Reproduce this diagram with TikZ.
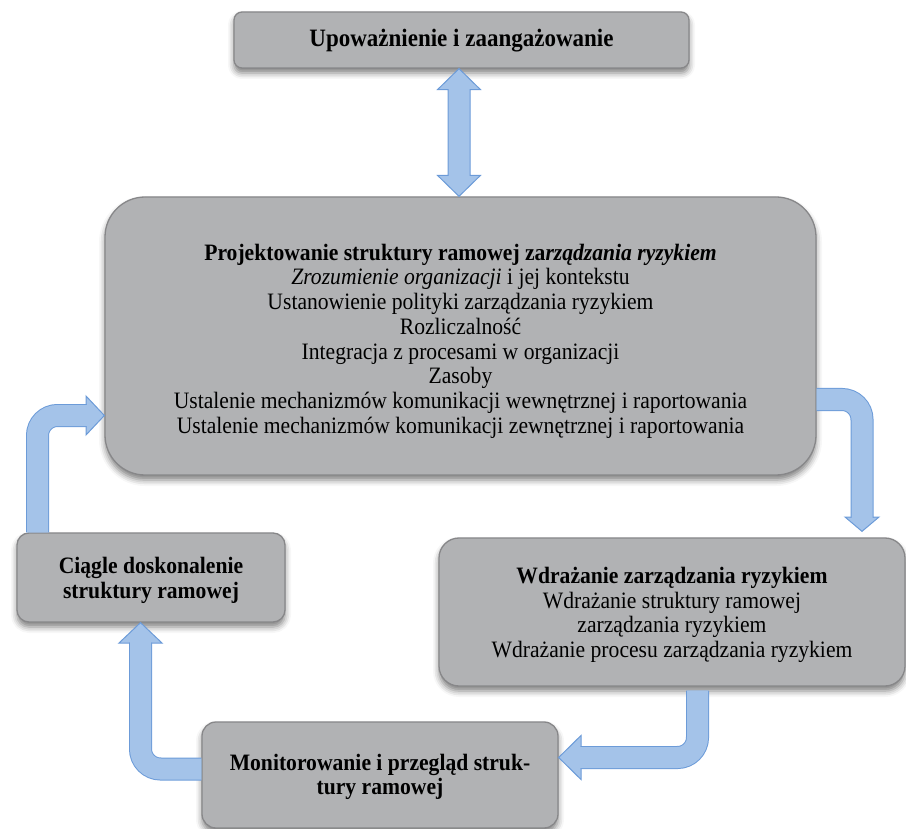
\documentclass[tikz,border=0pt]{standalone}
\usepackage{fontspec}
\setmainfont{Liberation Serif}[FakeStretch=0.92]
\usetikzlibrary{calc,shadows.blur}

\definecolor{boxfill}{RGB}{177,178,180}
\definecolor{boxline}{RGB}{135,135,137}
\definecolor{arrowfill}{RGB}{164,195,233}
\definecolor{arrowline}{RGB}{108,155,216}

\tikzset{
  box/.style={draw=boxline, fill=boxfill, line width=1.3pt, inner sep=0pt,
    blur shadow={shadow xshift=0pt, shadow yshift=-5pt,
      shadow blur radius=6pt, shadow opacity=50}},
  boxtext/.style={align=center, inner sep=0pt,
    font=\fontsize{23.5}{24.7}\selectfont},
  shaftline/.style={line width=23pt, draw=arrowline, rounded corners=20pt},
  shaftfill/.style={line width=21pt, draw=arrowfill, rounded corners=20pt},
  headstyle/.style={fill=arrowfill, draw=arrowline, line width=1pt, line join=miter},
}

% triangular head: #1 base centre, #2 tip, #3 half width
\newcommand\blockhead[3]{%
  \path[headstyle] ($(#1)!#3!90:(#2)$) -- (#2) -- ($(#1)!#3!-90:(#2)$) -- cycle;}

\begin{document}
\begin{tikzpicture}[x=1pt, y=-1pt]
\useasboundingbox (0,0) rectangle (906,829);

% boxes
\node[box, rounded corners=8pt, minimum width=455pt, minimum height=56pt]
  (top) at (461.5,40) {};
\node[boxtext, font=\fontsize{25}{26}\selectfont] (top-t) at ([yshift=-1pt]top.center)
  {\textbf{Upoważnienie i zaangażowanie}};

\node[box, rounded corners=40pt, minimum width=711pt, minimum height=278pt]
  (main) at (460.5,336) {};
\node[boxtext] (main-t) at ([yshift=-5pt]main.center) {%
  \textbf{Projektowanie struktury ramowej za\textit{rządzania ryzykiem}}\\
  \textit{Zrozumienie organizacji} i jej kontekstu\\
  Ustanowienie polityki zarządzania ryzykiem\\
  Rozliczalność\\
  Integracja z procesami w organizacji\\
  Zasoby\\
  Ustalenie mechanizmów komunikacji wewnętrznej i raportowania\\
  Ustalenie mechanizmów komunikacji zewnętrznej i raportowania};

\node[box, rounded corners=12pt, minimum width=268pt, minimum height=89pt]
  (ciagle) at (151,577.5) {};
\node[boxtext] (ciagle-t) at ([yshift=-3pt]ciagle.center)
  {\textbf{Ciągle doskonalenie}\\\textbf{struktury ramowej}};

\node[box, rounded corners=20pt, minimum width=466pt, minimum height=148pt]
  (wdr) at (672,612) {};
\node[boxtext] (wdr-t) at ([yshift=-3pt]wdr.center) {%
  \textbf{Wdrażanie zarządzania ryzykiem}\\
  Wdrażanie struktury ramowej\\
  zarządzania ryzykiem\\
  Wdrażanie procesu zarządzania ryzykiem};

\node[box, rounded corners=14pt, minimum width=356pt, minimum height=106pt]
  (mon) at (380,775) {};
\node[boxtext] (mon-t) at ([yshift=-2pt]mon.center)
  {\textbf{Monitorowanie i przegląd struk-}\\\textbf{tury ramowej}};

% two-way arrow between the top box and the design box
\coordinate (d1) at (top.south -| 459,0);
\coordinate (d2) at (main.north -| 459,0);
\path[headstyle] (d1) -- ($(d1)+(21.5,21)$) -- ($(d1)+(11,21)$) -- ($(d2)+(11,-21)$)
  -- ($(d2)+(21.5,-21)$) -- (d2) -- ($(d2)+(-21.5,-21)$) -- ($(d2)+(-11,-21)$)
  -- ($(d1)+(-11,21)$) -- ($(d1)+(-21.5,21)$) -- cycle;

% design -> implementation
\coordinate (a2s) at (main.east |- 0,399.5);
\coordinate (a2c) at (862,399.5);
\coordinate (a2b) at (862,517);
\coordinate (a2t) at (wdr.north -| 862,0);
\blockhead{a2b}{$(a2t)+(0,-6)$}{17pt}
\draw[shaftline] (a2s) -- (a2c) -- ($(a2b)+(0,0.5)$);
\draw[shaftfill] (a2s) -- (a2c) -- ($(a2b)+(0,1.5)$);

% implementation -> monitoring
\coordinate (a3s) at (wdr.south -| 697.5,0);
\coordinate (a3c) at (697.5,757.5);
\coordinate (a3b) at (581,757.5);
\coordinate (a3t) at (mon.east |- 0,757.5);
\blockhead{a3b}{a3t}{22pt}
\draw[shaftline] ($(a3s)+(0,4)$) -- (a3c) -- ($(a3b)+(-0.5,0)$);
\draw[shaftfill] ($(a3s)+(0,4)$) -- (a3c) -- ($(a3b)+(-1.5,0)$);

% monitoring -> improvement
\coordinate (a4s) at (mon.west |- 0,769);
\coordinate (a4c) at (140.5,769);
\coordinate (a4b) at (140.5,643);
\coordinate (a4t) at (ciagle.south -| 140.5,0);
\blockhead{a4b}{a4t}{21.5pt}
\draw[shaftline] (a4s) -- (a4c) -- ($(a4b)+(0,-0.5)$);
\draw[shaftfill] (a4s) -- (a4c) -- ($(a4b)+(0,-1.5)$);

% improvement -> design
\coordinate (a5s) at (ciagle.north -| 37.5,0);
\coordinate (a5c) at (37.5,415.5);
\coordinate (a5b) at (86,415.5);
\coordinate (a5t) at (main.west |- 0,415.5);
\blockhead{a5b}{a5t}{19.5pt}
\draw[shaftline] (a5s) -- (a5c) -- ($(a5b)+(0.5,0)$);
\draw[shaftfill] (a5s) -- (a5c) -- ($(a5b)+(1.5,0)$);
\end{tikzpicture}
\end{document}
